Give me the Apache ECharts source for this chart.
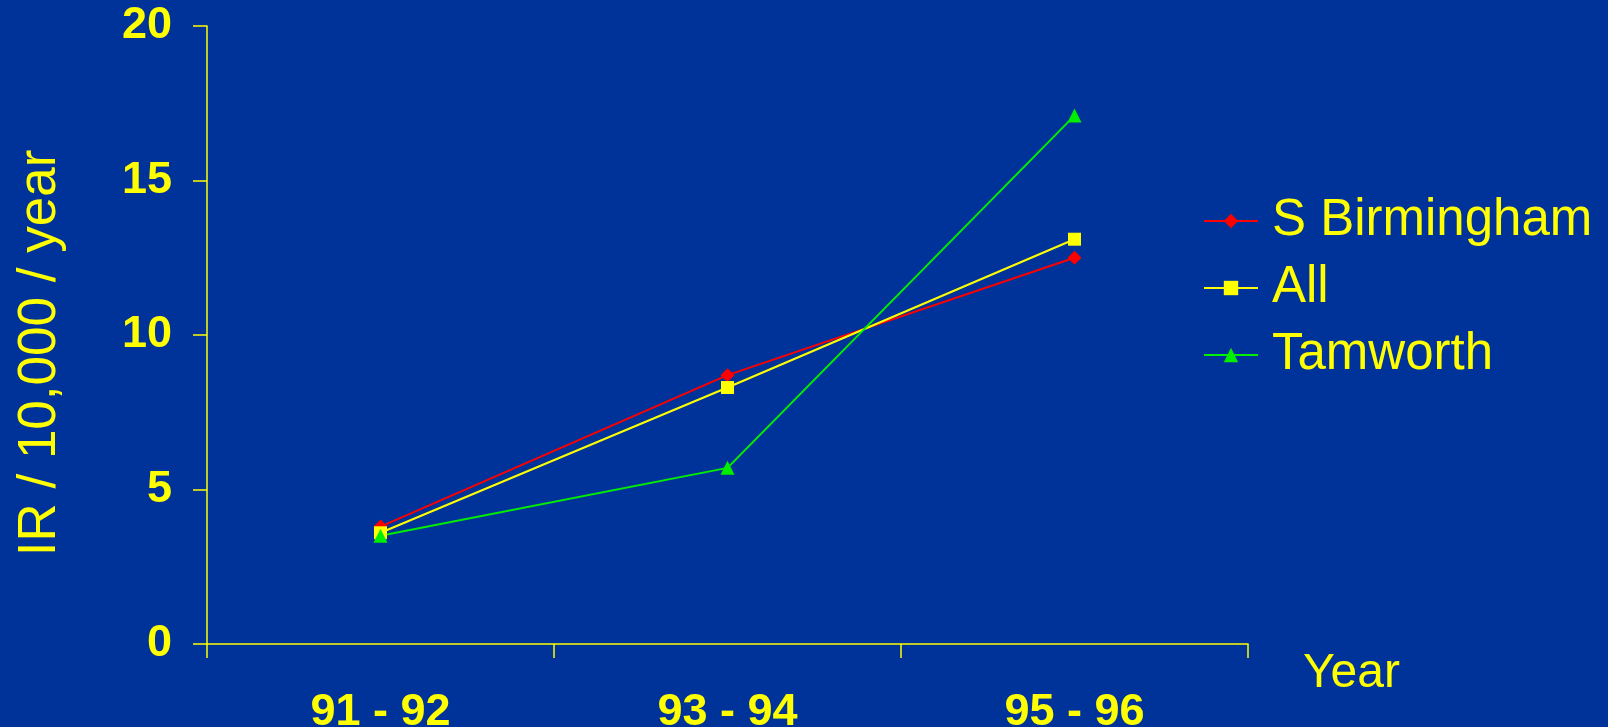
<!DOCTYPE html>
<html>
<head>
<meta charset="utf-8">
<script src="https://cdn.jsdelivr.net/npm/echarts@6/dist/echarts.min.js"></script>
<style>
  html, body { margin: 0; padding: 0; background: #003399; }
  #chart { width: 1608px; height: 727px; }
</style>
</head>
<body>
<div id="chart"></div>
<script>
// Incidence rate per 10,000 per year, by two-year period
const periods = ['91 - 92', '93 - 94', '95 - 96'];
const sBirmingham = [3.8, 8.7, 12.5];
const allAreas = [3.6, 8.3, 13.1];
const tamworth = [3.5, 5.7, 17.1];
const yTicks = { min: 0, max: 20, interval: 5 };

const yellow = '#ffff00';
const font = '"Liberation Sans", Arial, sans-serif';

const chart = echarts.init(document.getElementById('chart'));

function lineSeries(name, data, color, symbol, size) {
  return {
    name: name,
    type: 'line',
    data: data,
    symbol: symbol,
    symbolSize: size,
    showAllSymbol: true,
    lineStyle: { color: color, width: 2 },
    itemStyle: { color: color, borderWidth: 0 },
    emphasis: { disabled: true },
    animation: false
  };
}

chart.setOption({
  backgroundColor: '#003399',
  animation: false,
  grid: { left: 207, right: 360, top: 26, bottom: 83, containLabel: false, outerBoundsMode: 'none' },
  legend: {
    orient: 'vertical',
    left: 1198,
    top: 190,
    itemWidth: 54,
    itemHeight: 18,
    itemGap: 15,
    textStyle: { color: yellow, fontFamily: font, fontSize: 51, lineHeight: 52, padding: [0, 0, 0, 9] },
    data: ['S Birmingham', 'All', 'Tamworth']
  },
  xAxis: {
    type: 'category',
    data: periods,
    boundaryGap: true,
    name: 'Year',
    nameLocation: 'end',
    nameGap: 55,
    nameTextStyle: { color: yellow, fontFamily: font, fontSize: 48, verticalAlign: 'top', padding: [6, 0, 0, 0] },
    axisLine: { lineStyle: { color: yellow, width: 1.5 } },
    axisTick: { show: true, length: 14, inside: false, lineStyle: { color: yellow, width: 1.5 } },
    axisLabel: { color: yellow, fontFamily: font, fontWeight: 'bold', fontSize: 45, margin: 46 },
    splitLine: { show: false }
  },
  yAxis: {
    type: 'value',
    min: yTicks.min,
    max: yTicks.max,
    interval: yTicks.interval,
    name: 'IR / 10,000 / year',
    nameLocation: 'middle',
    nameGap: 140,
    nameRotate: 90,
    nameTextStyle: { color: yellow, fontFamily: font, fontSize: 53, padding: [0, 36, 0, 0] },
    axisLine: { show: true, lineStyle: { color: yellow, width: 1.5 } },
    axisTick: { show: true, length: 14, inside: false, lineStyle: { color: yellow, width: 1.5 } },
    axisLabel: { color: yellow, fontFamily: font, fontWeight: 'bold', fontSize: 45, margin: 35 },
    splitLine: { show: false }
  },
  series: [
    lineSeries('S Birmingham', sBirmingham, '#ff0000', 'diamond', 14),
    lineSeries('All', allAreas, '#ffff00', 'rect', 13),
    lineSeries('Tamworth', tamworth, '#00ee00', 'triangle', 14)
  ]
});
</script>
</body>
</html>
